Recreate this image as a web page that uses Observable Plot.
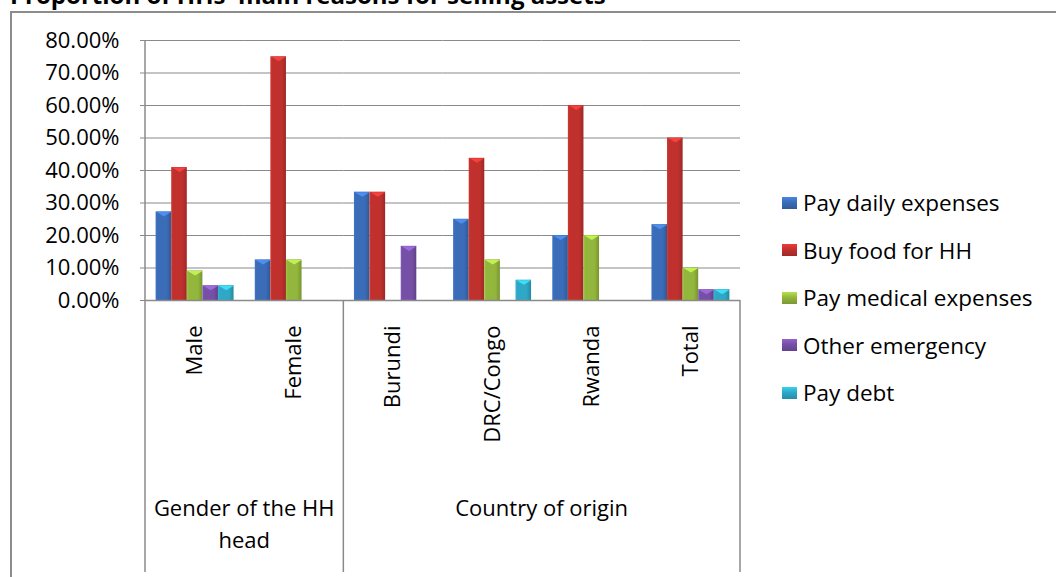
<!DOCTYPE html>
<html>
<head>
<meta charset="utf-8">
<script src="https://cdn.jsdelivr.net/npm/d3@7"></script>
<script src="https://cdn.jsdelivr.net/npm/@observablehq/plot@0.6"></script>
<style>
  html, body { margin: 0; padding: 0; background: #fff; }
  body { width: 1056px; height: 577px; position: relative; overflow: hidden; font-family: "Open Sans", sans-serif; color: #000; }
  #title { position: absolute; left: 10px; top: -17px; font-weight: bold; font-size: 24px; line-height: 1; white-space: nowrap; }
  #chart { position: absolute; left: 0; top: 0; }
  #frame { position: absolute; left: 10px; top: 11px; width: 1100px; height: 700px; border-top: 2px solid #8c8c8c; border-left: 2px solid #8c8c8c; pointer-events: none; }
  #legend { position: absolute; left: 782px; top: 179px; }
  #legend .item { height: 47.5px; display: flex; align-items: center; font-size: 22.5px; white-space: nowrap; }
  #legend .swatch { width: 15px; height: 12px; margin-right: 6px; flex: none; }
</style>
</head>
<body>
<div id="title">Proportion of HHs' main reasons for selling assets</div>
<div id="chart"></div>
<div id="legend"></div>
<div id="frame"></div>
<script>
// Categories along the x axis, and the two groups they belong to
const categories = ["Male", "Female", "Burundi", "DRC/Congo", "Rwanda", "Total"];
const groups = ["Gender of the HH head", "Country of origin"];
const groupSizes = [2, 4];

// Reasons for selling assets (one bar per reason in every category)
const series = ["Pay daily expenses", "Buy food for HH", "Pay medical expenses", "Other emergency", "Pay debt"];

// Share of households per reason, in category order
const payDaily       = [0.2727, 0.125, 0.3333, 0.25,   0.20, 0.2333];
const buyFood        = [0.4091, 0.75,  0.3333, 0.4375, 0.60, 0.50];
const payMedical     = [0.0909, 0.125, 0,      0.125,  0.20, 0.10];
const otherEmergency = [0.0455, 0,     0.1667, 0,      0,    0.0333];
const payDebt        = [0.0455, 0,     0,      0.0625, 0,    0.0333];

// Value axis ticks
const yTicks = [0, 0.1, 0.2, 0.3, 0.4, 0.5, 0.6, 0.7, 0.8];

const seriesValues = [payDaily, buyFood, payMedical, otherEmergency, payDebt];
const seriesColors = ["#3a6cb7", "#c0312e", "#92b73c", "#7650a6", "#2ea8c6"];

const rows = categories.flatMap((category, i) =>
  series.map((s, j) => ({category, series: s, value: seriesValues[j][i]}))
).filter(d => d.value > 0);

// Flat downward triangle that gives each bar its bevelled top
const capSymbol = {
  draw(ctx, size) {
    const r = Math.sqrt(size / Math.PI);
    ctx.moveTo(-r, 0);
    ctx.lineTo(r, 0);
    ctx.lineTo(0, r * 0.6);
    ctx.closePath();
  }
};

const W = 1056, H = 577;
const gridColor = "#8a8a8a";

const chart = Plot.plot({
  width: W,
  height: H,
  marginLeft: 145,
  marginRight: 316,
  marginTop: 40,
  marginBottom: 277,
  style: {fontFamily: "'Open Sans', sans-serif", fontSize: "22px", background: "transparent", color: "#000", overflow: "visible"},
  fx: {domain: categories, padding: 0, round: false, label: null},
  x: {domain: series, paddingInner: 0, paddingOuter: 0.68, round: false, axis: null},
  y: {domain: [0, 0.8], label: null},
  color: {domain: series, range: series.map((s, j) => `url(#bar-fill-${j})`)},
  marks: [
    Plot.gridY(yTicks, {stroke: gridColor, strokeOpacity: 1, strokeWidth: 1.2}),
    Plot.axisY(yTicks, {tickFormat: d3.format(".2%"), tickSize: 5, tickPadding: 21, stroke: gridColor, label: null}),
    Plot.axisFx({anchor: "bottom", tickRotate: -90, tickSize: 0, tickPadding: 25, label: null}),
    Plot.barY(rows, {fx: "category", x: "series", y: "value", fill: "series"}),
    ...series.map((s, j) => Plot.dot(rows.filter(d => d.series === s), {
      fx: "category", x: "series", y: "value",
      symbol: capSymbol, r: 7.6,
      fill: d3.color(seriesColors[j]).brighter(0.9).formatHex(),
      fillOpacity: 0.85, stroke: null
    })),
    Plot.ruleY([0], {stroke: gridColor, strokeWidth: 1.5})
  ]
});

document.getElementById("chart").append(chart);

const svg = d3.select(chart);

// Bevel-like horizontal shading for the bars
const defs = svg.insert("defs", ":first-child");
seriesColors.forEach((c, j) => {
  const base = d3.color(c);
  const g = defs.append("linearGradient").attr("id", `bar-fill-${j}`).attr("x1", 0).attr("x2", 1).attr("y1", 0).attr("y2", 0);
  [[0, base.brighter(0.25)], [0.12, base], [0.7, base], [0.85, base.darker(0.25)], [1, base.darker(0.6)]]
    .forEach(([o, col]) => g.append("stop").attr("offset", o).attr("stop-color", col.formatHex()));
});

// Category axis: frame lines and group labels below the rotated category names
const fxs = chart.scale("fx");
const band = d3.scaleBand(fxs.domain, fxs.range)
  .paddingInner(fxs.paddingInner ?? 0)
  .paddingOuter(fxs.paddingOuter ?? 0)
  .align(fxs.align ?? 0.5);
const [yBottom, yTop] = chart.scale("y").range;
const axisBottom = H - 5;

const deco = svg.append("g").attr("stroke", gridColor).attr("stroke-width", 1.5);
const x0 = band(categories[0]);
deco.append("line").attr("x1", x0).attr("x2", x0).attr("y1", yTop).attr("y2", axisBottom);

const labels = svg.append("g").attr("text-anchor", "middle").attr("fill", "#000");
let start = 0;
groups.forEach((name, gi) => {
  const cats = categories.slice(start, start + groupSizes[gi]);
  start += groupSizes[gi];
  const left = band(cats[0]);
  const right = band(cats[cats.length - 1]) + band.bandwidth();
  deco.append("line").attr("x1", right).attr("x2", right).attr("y1", yBottom).attr("y2", axisBottom);

  // wrap the group name to the width of its categories
  const cx = (left + right) / 2;
  const text = labels.append("text").attr("x", cx);
  const words = name.split(" ");
  let lines = [[]];
  const probe = labels.append("text").attr("visibility", "hidden");
  words.forEach(w => {
    const trial = [...lines[lines.length - 1], w].join(" ");
    probe.text(trial);
    if (probe.node().getComputedTextLength() > right - left - 8 && lines[lines.length - 1].length) lines.push([w]);
    else lines[lines.length - 1].push(w);
  });
  probe.remove();
  lines.forEach((ln, k) => {
    text.append("tspan").attr("x", cx).attr("y", 508 + k * 32).attr("dy", "0.35em").text(ln.join(" "));
  });
});

// Legend
const legend = d3.select("#legend");
series.forEach((s, j) => {
  const base = d3.color(seriesColors[j]);
  const item = legend.append("div").attr("class", "item");
  item.append("div").attr("class", "swatch")
    .style("background", `linear-gradient(to bottom, ${base.brighter(0.6).formatHex()} 0%, ${base.formatHex()} 45%, ${base.darker(0.5).formatHex()} 100%)`);
  item.append("span").text(s);
});
</script>
</body>
</html>
